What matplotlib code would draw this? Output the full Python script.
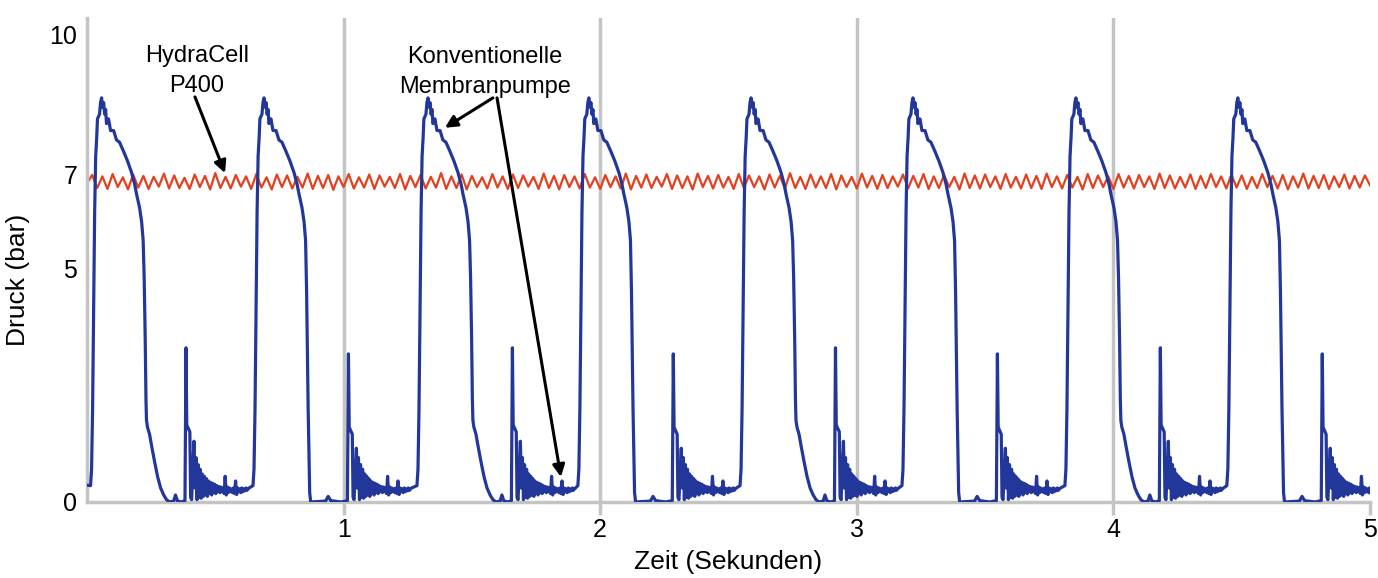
import numpy as np
import matplotlib
matplotlib.use("Agg")
import matplotlib.pyplot as plt

plt.rcParams["font.family"] = ["Liberation Sans", "DejaVu Sans"]

# Membranpumpe: Zeitpunkte der Druckspitzen (s) und Pumpenkopf
peak_times = [0.057, 0.690, 1.329, 1.956, 2.588, 3.219, 3.854, 4.485]
peak_heads = ["A", "B", "A", "B", "A", "B", "A", "B"]

# Verlauf relativ zur Spitze: Anstieg und Abfall (s, bar)
rise_t = [-0.043, -0.039, -0.035, -0.031, -0.027, -0.023, -0.019, -0.016, -0.008, -0.004,
          0.0, 0.004, 0.008, 0.012, 0.016, 0.019, 0.027, 0.035, 0.047, 0.058,
          0.070, 0.086, 0.101, 0.117, 0.129, 0.136, 0.148, 0.156]
rise_p = [0.35, 0.7, 2.0, 4.2, 6.2, 7.4, 7.8, 8.2, 8.3, 8.55,
          8.65, 8.45, 8.55, 8.3, 8.4, 8.1, 8.2, 7.95, 7.95, 7.75,
          7.7, 7.5, 7.3, 7.05, 6.8, 6.6, 6.3, 6.0]

fall_a_t = [0.162, 0.166, 0.170, 0.173, 0.175, 0.179, 0.187, 0.195, 0.207, 0.218,
            0.230, 0.242, 0.253, 0.265, 0.281, 0.288, 0.296, 0.312, 0.325]
fall_a_p = [5.6, 4.8, 3.5, 2.2, 1.75, 1.6, 1.45, 1.2, 0.85, 0.55,
            0.3, 0.15, 0.05, 0.0, 0.02, 0.15, 0.02, 0.0, 0.03]

fall_b_t = [0.162, 0.166, 0.172, 0.178, 0.182, 0.240, 0.250, 0.260, 0.300, 0.325]
fall_b_p = [5.6, 4.5, 2.0, 0.2, 0.0, 0.02, 0.12, 0.03, 0.0, 0.03]

spike_t = [0.329, 0.332, 0.344, 0.347, 0.351, 0.360, 0.364]
spike_a_p = [3.3, 1.65, 1.5, 0.1, 0.05, 1.3, 0.3]
spike_b_p = [3.17, 1.6, 1.45, 0.1, 0.05, 1.15, 0.3]

# Rauschen nach dem Ventilschlag
noise_p = [0.95, 0.05, 0.80, 0.10, 0.70, 0.08, 0.60, 0.12, 0.55, 0.15,
           0.50, 0.12, 0.45, 0.18, 0.42, 0.15, 0.40, 0.20, 0.38, 0.18,
           0.35, 0.22, 0.33, 0.20, 0.32, 0.22, 0.30, 0.18, 0.55, 0.15,
           0.32, 0.20, 0.30, 0.22, 0.28, 0.20, 0.30, 0.18, 0.45, 0.16,
           0.30, 0.22, 0.28, 0.20, 0.30, 0.22, 0.28, 0.24, 0.30, 0.25,
           0.28, 0.30]
noise_t = list(np.linspace(0.368, 0.575, len(noise_p)))

# HydraCell P400: Druck alle 0,02 s
red_p = [
    6.82, 7.00, 6.72, 6.97, 6.70, 7.02, 6.74, 6.95, 6.69, 7.01, 6.73, 6.98, 6.70, 6.96, 6.75, 7.03, 6.71, 6.99, 6.72, 6.94,
    6.70, 7.01, 6.74, 6.98, 6.69, 7.04, 6.72, 6.96, 6.71, 7.00, 6.75, 6.97, 6.70, 7.02, 6.73, 6.95, 6.69, 7.01, 6.74, 6.99,
    6.71, 6.96, 6.73, 7.03, 6.70, 6.98, 6.72, 7.00, 6.68, 6.97, 6.74, 7.02, 6.71, 6.95, 6.73, 7.01, 6.70, 6.99, 6.75, 6.96,
    6.72, 7.02, 6.69, 6.98, 6.74, 7.00, 6.71, 6.96, 6.73, 7.04, 6.70, 6.97, 6.72, 7.01, 6.69, 6.98, 6.74, 6.95, 6.71, 7.02,
    6.73, 6.97, 6.70, 7.01, 6.72, 6.99, 6.75, 6.96, 6.70, 7.03, 6.72, 6.98, 6.69, 7.00, 6.74, 6.97, 6.71, 7.02, 6.73, 6.95,
    6.70, 7.00, 6.74, 6.97, 6.71, 7.03, 6.69, 6.98, 6.73, 7.01, 6.72, 6.96, 6.75, 7.02, 6.70, 6.99, 6.72, 6.97, 6.69, 7.03,
    6.74, 6.98, 6.71, 7.00, 6.73, 6.96, 6.70, 7.02, 6.72, 6.99, 6.74, 6.97, 6.69, 7.01, 6.73, 6.98, 6.71, 7.04, 6.72, 6.96,
    6.70, 7.01, 6.73, 6.97, 6.72, 7.02, 6.69, 6.99, 6.74, 6.96, 6.71, 7.03, 6.73, 6.98, 6.70, 7.00, 6.72, 6.97, 6.75, 7.01,
    6.71, 6.98, 6.73, 7.02, 6.70, 6.97, 6.72, 7.00, 6.74, 6.96, 6.69, 7.03, 6.72, 6.99, 6.71, 7.01, 6.74, 6.97, 6.70, 7.02,
    6.73, 6.96, 6.71, 7.01, 6.72, 6.98, 6.70, 7.03, 6.74, 6.97, 6.71, 7.00, 6.73, 6.96, 6.69, 7.02, 6.72, 6.99, 6.74, 6.97,
    6.70, 7.02, 6.73, 6.98, 6.71, 7.00, 6.74, 6.97, 6.70, 7.03, 6.72, 6.99, 6.71, 6.96, 6.73, 7.01, 6.70, 6.98, 6.72, 7.02,
    6.74, 6.97, 6.71, 7.01, 6.73, 6.99, 6.70, 6.96, 6.72, 7.02, 6.74, 6.98, 6.71, 7.00, 6.69, 6.97, 6.73, 7.03, 6.71, 6.98,
    6.72, 7.00, 6.70, 6.97, 6.74, 7.01, 6.71, 6.98, 6.73, 6.99, 6.78,
]
red_t = np.arange(len(red_p)) * 0.02

x_ticks = [1, 2, 3, 4, 5]
y_ticks = [0, 5, 7, 10]

# Kurve der Membranpumpe zusammensetzen
blue_t = [0.0]
blue_p = [0.36]
for pk, hd in zip(peak_times, peak_heads):
    if hd == "A":
        ft, fp, sp = fall_a_t, fall_a_p, spike_a_p
    else:
        ft, fp, sp = fall_b_t, fall_b_p, spike_b_p
    cyc_t = rise_t + ft + spike_t + noise_t
    cyc_p = rise_p + fp + sp + noise_p
    blue_t += [pk + v for v in cyc_t]
    blue_p += cyc_p

fig = plt.figure(figsize=(13.78, 5.78), dpi=100)
ax = fig.add_axes([0.0631, 0.1315, 0.9311, 0.8374])

grey = "#c4c4c4"
for x in x_ticks[:-1]:
    ax.axvline(x, color=grey, lw=2.5, zorder=1)

ax.plot(red_t, red_p, color="#e2401f", lw=1.6, zorder=2)
ax.plot(blue_t, blue_p, color="#23379a", lw=2.3, zorder=3)

ax.set_xlim(0, 5)
ax.set_ylim(0, 10.36)
ax.set_xticks(x_ticks)
ax.set_yticks(y_ticks)
ax.tick_params(axis="x", length=9.5, width=2.5, color=grey, pad=2, labelsize=18)
ax.tick_params(axis="y", length=0, pad=7, labelsize=18)

for s in ["top", "right"]:
    ax.spines[s].set_visible(False)
for s in ["left", "bottom"]:
    ax.spines[s].set_color(grey)
    ax.spines[s].set_linewidth(2.5)

ax.set_xlabel("Zeit (Sekunden)", fontsize=19, labelpad=6)
ax.set_ylabel("Druck (bar)", fontsize=19)
ax.yaxis.set_label_coords(-0.044, 0.459)

# Beschriftungen mit Pfeilen
ax.text(0.429, 9.23, "HydraCell\nP400", fontsize=17, ha="center", va="center",
        linespacing=1.45)
ax.text(1.551, 9.21, "Konventionelle\nMembranpumpe", fontsize=17, ha="center", va="center",
        linespacing=1.45)
arrow = dict(arrowstyle="-|>", color="black", lw=2.2, mutation_scale=18, shrinkA=0, shrinkB=0)
ax.annotate("", xy=(0.538, 7.04), xytext=(0.421, 8.67), arrowprops=arrow, zorder=5)
ax.annotate("", xy=(1.395, 8.01), xytext=(1.582, 8.65), arrowprops=arrow, zorder=5)
ax.annotate("", xy=(1.847, 0.535), xytext=(1.598, 8.65), arrowprops=arrow, zorder=5)

fig.savefig("out.png", dpi=100)
